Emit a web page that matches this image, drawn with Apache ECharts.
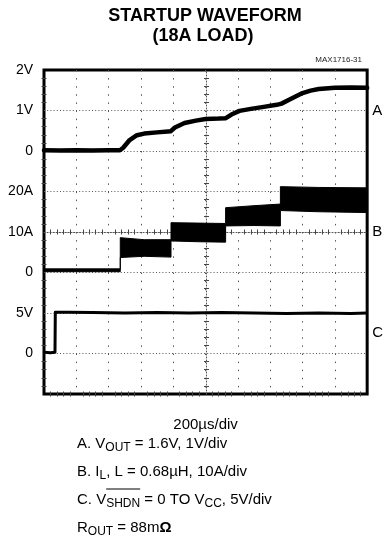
<!DOCTYPE html>
<html><head><meta charset="utf-8">
<script src="https://cdn.jsdelivr.net/npm/echarts@6/dist/echarts.min.js"></script>
<style>html,body{margin:0;padding:0;background:#fff}#c{width:386px;height:546px}</style>
</head><body><div id="c"></div>
<script>
// ---- Trace A: VOUT (volts), 1V/div, zero at division 6
const timeA = [0, 100, 200, 300, 400, 470, 490, 530, 575, 620, 700, 785, 810, 870, 940, 1000, 1080, 1125, 1160, 1210, 1280, 1360, 1440, 1470, 1520, 1600, 1650, 1700, 1800, 1900, 2000];
const vout  = [0.02, 0.01, 0.02, 0.01, 0.02, 0.02, 0.08, 0.27, 0.39, 0.43, 0.46, 0.49, 0.58, 0.69, 0.75, 0.79, 0.80, 0.81, 0.90, 0.99, 1.04, 1.09, 1.14, 1.17, 1.27, 1.43, 1.49, 1.53, 1.56, 1.57, 1.56];
// ---- Trace B: inductor current IL (amps), ripple envelope, 10A/div, zero at division 3
const timeB  = [0, 472, 472, 620, 786, 786, 950, 1124, 1124, 1300, 1463, 1463, 1700, 2000];
const ilLow  = [0.2, 0.2, 3.7, 4.0, 3.8, 7.8, 7.6, 7.5, 11.5, 11.6, 11.5, 15.3, 15.0, 14.8];
const ilHigh = [0.9, 0.9, 8.6, 8.1, 8.1, 12.3, 12.2, 12.1, 16.0, 16.5, 16.9, 21.2, 21.0, 20.9];
// ---- Trace C: VSHDN (volts), 5V/div, zero at division 1
const timeC = [0, 40, 68, 70, 150, 300, 500, 700, 900, 1100, 1300, 1500, 1700, 1900, 2000];
const vshdn = [0.15, 0.1, 0.15, 5.1, 5.1, 5.05, 5.0, 5.05, 5.0, 5.05, 5.0, 4.95, 5.0, 4.95, 5.0];
// ---- Tick labels (per screen division, bottom to top)
const leftTickLabels = ['', '0', '5V', '0', '10A', '20A', '0', '1V', '2V'];
const traceNames = ['A', 'B', 'C'];
const traceLabelDiv = [7, 4, 1.5];

const A_ZERO = 6, A_PER_DIV = 1;
const B_ZERO = 3, B_PER_DIV = 10;
const C_ZERO = 1, C_PER_DIV = 5;

const FONT = "'Liberation Sans', Arial, sans-serif";
const chart = echarts.init(document.getElementById('c'), null, {renderer: 'canvas'});

const base = {min: 0, max: 2000, interval: 200};
const yBase = {min: 0, max: 8, interval: 1};
function tickAxisX(pos, offset, inside, extra) {
  return Object.assign({
    type: 'value', position: pos, offset: offset, ...base,
    axisLine: {show: false}, axisLabel: {show: false},
    axisTick: {show: false, inside: inside},
    minorTick: {show: true, splitNumber: 5, length: 2.5, lineStyle: {color: '#444', width: 1}},
    splitLine: {show: false}
  }, extra || {});
}
function tickAxisY(pos, offset, inside, extra) {
  return Object.assign({
    type: 'value', position: pos, offset: offset, ...yBase,
    axisLine: {show: false}, axisLabel: {show: false},
    axisTick: {show: false, inside: inside},
    minorTick: {show: true, splitNumber: 5, length: 2.5, lineStyle: {color: '#444', width: 1}},
    splitLine: {show: false}
  }, extra || {});
}

const xAxes = [
  tickAxisX('bottom', 0, true, {
    name: '200\u00b5s/div', nameLocation: 'middle', nameGap: 23,
    nameTextStyle: {fontFamily: FONT, fontSize: 15, color: '#000'},
    splitLine: {show: true, showMinLine: false, showMaxLine: false,
      lineStyle: {color: '#555', width: 1, type: [1.5, 6.6]}}
  }),
  tickAxisX('top', 0, true),
  tickAxisX('bottom', -162, true, {axisLine: {show: true, lineStyle: {color: '#555', width: 1, type: [1, 2]}}}),
  tickAxisX('bottom', -162, false)
];
const yAxes = [
  tickAxisY('left', 0, true, {
    axisLabel: {show: true, margin: 11, fontFamily: FONT, fontSize: 14, color: '#000',
      formatter: v => leftTickLabels[Math.round(v)] || ''},
    splitLine: {show: true, showMinLine: false, showMaxLine: false,
      lineStyle: {color: '#555', width: 1, type: [1, 2.2]}}
  }),
  tickAxisY('right', 0, true),
  tickAxisY('left', -162.5, true, {axisLine: {show: true, lineStyle: {color: '#555', width: 1, type: [1, 2]}}}),
  tickAxisY('left', -162.5, false),
  {
    type: 'value', position: 'right', min: 0, max: 8, interval: 0.5,
    axisLine: {show: false}, axisTick: {show: false}, splitLine: {show: false},
    axisLabel: {show: true, margin: 5, fontFamily: FONT, fontSize: 15, color: '#000',
      formatter: v => { const i = traceLabelDiv.indexOf(v); return i >= 0 ? traceNames[i] : ''; }}
  }
];

const dataA = timeA.map((t, i) => [t, A_ZERO + vout[i] / A_PER_DIV]);
const dataB = timeB.map((t, i) => [t, B_ZERO + ilLow[i] / B_PER_DIV, B_ZERO + ilHigh[i] / B_PER_DIV]);
const dataC = timeC.map((t, i) => [t, C_ZERO + vshdn[i] / C_PER_DIV]);

function renderBand(params, api) {
  if (params.dataIndex !== 0) return;
  const upper = dataB.map(d => api.coord([d[0], d[2]]));
  const lower = dataB.map(d => api.coord([d[0], d[1]])).reverse();
  return {
    type: 'polygon', shape: {points: upper.concat(lower)},
    style: {fill: '#000', stroke: '#000', lineWidth: 1, lineJoin: 'round'}
  };
}

// text measurement for overline
const mc = document.createElement('canvas').getContext('2d');
function tw(txt, size) { mc.font = size + 'px ' + FONT; return mc.measureText(txt).width; }
const textX = 77;
const lineY = [444, 472, 500, 528];
const olStart = textX + tw('C. V', 15);
const olEnd = olStart + tw('SHDN', 12);

const rich = {
  m: {fontFamily: FONT, fontSize: 15, lineHeight: 20, color: '#000'},
  s: {fontFamily: FONT, fontSize: 12, lineHeight: 12, verticalAlign: 'bottom', color: '#000'},
  o: {fontFamily: FONT, fontSize: 15, lineHeight: 20, fontWeight: 'bold', color: '#000'}
};
const bottomLines = [
  '{m|A. V}{s|OUT}{m| = 1.6V, 1V/div}',
  '{m|B. I}{s|L}{m|, L = 0.68\u00b5H, 10A/div}',
  '{m|C. V}{s|SHDN}{m| = 0 TO V}{s|CC}{m|, 5V/div}',
  '{m|R}{s|OUT}{m| = 88m}{o|\u03a9}'
];

const graphics = [
  {type: 'text', x: 205, y: 16, style: {text: 'STARTUP WAVEFORM', font: 'bold 18px ' + FONT, fill: '#000', align: 'center', verticalAlign: 'middle'}},
  {type: 'text', x: 203, y: 36, style: {text: '(18A LOAD)', font: 'bold 18px ' + FONT, fill: '#000', align: 'center', verticalAlign: 'middle'}},
  {type: 'text', x: 362, y: 60, style: {text: 'MAX1716-31', font: '8px ' + FONT, fill: '#222', align: 'right', verticalAlign: 'middle'}},
  {type: 'line', shape: {x1: olStart, y1: lineY[2] - 11, x2: olEnd, y2: lineY[2] - 11}, style: {stroke: '#000', lineWidth: 1}}
].concat(bottomLines.map((t, i) => ({
  type: 'text', x: textX, y: lineY[i],
  style: {text: t, rich: rich, align: 'left', verticalAlign: 'middle'}
})));

chart.setOption({
  animation: false,
  backgroundColor: '#fff',
  grid: {left: 44, top: 70, width: 325, height: 324, show: true, borderColor: '#000', borderWidth: 3, backgroundColor: 'transparent', containLabel: false},
  xAxis: xAxes,
  yAxis: yAxes,
  graphic: graphics,
  series: [
    {type: 'line', name: 'VOUT', data: dataA, showSymbol: false, symbol: 'none', z: 5,
      lineStyle: {color: '#000', width: 4.5, join: 'round', cap: 'round'}},
    {type: 'custom', name: 'IL', data: dataB, renderItem: renderBand, z: 5,
      encode: {x: 0, y: [1, 2]}, clip: true},
    {type: 'line', name: 'VSHDN', data: dataC, showSymbol: false, symbol: 'none', z: 5,
      lineStyle: {color: '#000', width: 3, join: 'round'}}
  ]
});
</script></body></html>
